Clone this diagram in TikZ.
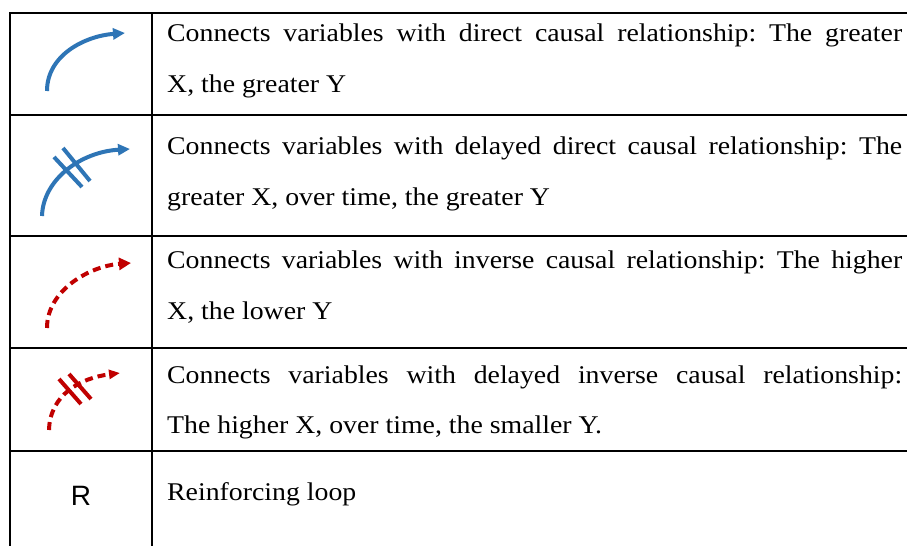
\documentclass[tikz,border=0pt]{standalone}
\usepackage{fontspec}
\setmainfont{Liberation Serif}[FakeStretch=1.09]
\newfontfamily\rsans{Liberation Sans}
\usetikzlibrary{arrows.meta}
\definecolor{cblue}{HTML}{2E75B6}
\definecolor{cred}{HTML}{C00000}
\frenchspacing
\tikzset{
  grid/.style={line width=2pt, black},
  txt/.style={anchor=base west, inner sep=0pt, font=\fontsize{25.5}{30}\selectfont},
  posarr/.style={cblue, line width=4pt, -{Triangle[length=12pt, width=11pt]}},
  negarr/.style={cred, line width=4pt, dash pattern=on 8pt off 5pt, -{Triangle[length=12pt, width=12pt]}},
  negarrsmall/.style={cred, line width=4pt, dash pattern=on 8pt off 5pt, -{Triangle[length=11pt, width=9pt]}},
  hatchblue/.style={cblue, line width=4pt},
  hatchred/.style={cred, line width=4pt},
}
\newcommand{\jline}[1]{\makebox[735pt][s]{\frenchspacing #1}}
\begin{document}
\begin{tikzpicture}[x=1pt, y=-1pt]
\useasboundingbox (0,0) rectangle (907,546);
\fill[white] (0,0) rectangle (907,546);
% table rules
\draw[grid] (10,13) -- (907,13);
\draw[grid] (10,115) -- (907,115);
\draw[grid] (10,236) -- (907,236);
\draw[grid] (10,348) -- (907,348);
\draw[grid] (10,451) -- (907,451);
\draw[grid] (10,12) -- (10,546);
\draw[grid] (152,12) -- (152,546);
% row 1 symbol
\coordinate (a1s) at (47,91);
\coordinate (a1e) at (125,33);
\draw[posarr] (a1s) .. controls (47,55) and (85,36) .. (a1e);
% row 2 symbol
\coordinate (a2s) at (42,216);
\coordinate (a2e) at (130,149);
\draw[posarr] (a2s) .. controls (43,180) and (80,152) .. (a2e);
\coordinate (h2a) at (54,157); \coordinate (h2b) at (82,187);
\coordinate (h2c) at (63,148); \coordinate (h2d) at (90,181);
\draw[hatchblue] (h2a) -- (h2b);
\draw[hatchblue] (h2c) -- (h2d);
% row 3 symbol
\coordinate (a3s) at (47,328);
\coordinate (a3e) at (131,263);
\draw[negarr] (a3s) .. controls (47,290) and (90,266) .. (a3e);
% row 4 symbol
\coordinate (a4s) at (49,430);
\coordinate (a4e) at (120,373);
\draw[negarrsmall] (a4s) .. controls (50,395) and (80,378) .. (a4e);
\coordinate (h4a) at (59,379); \coordinate (h4b) at (81,404);
\coordinate (h4c) at (69,374); \coordinate (h4d) at (91,399);
\draw[hatchred] (h4a) -- (h4b);
\draw[hatchred] (h4c) -- (h4d);
% row 5 symbol
\node[anchor=base, inner sep=0pt, font=\rsans\fontsize{28}{32}\selectfont] (r5) at (81,505) {R};
% texts
\node[txt] (t1a) at (167,41.5) {\jline{Connects variables with direct causal relationship: The greater}};
\node[txt] (t1b) at (167,92) {X, the greater Y};
\node[txt] (t2a) at (167,154) {\jline{Connects variables with delayed direct causal relationship: The}};
\node[txt] (t2b) at (167,205.5) {greater X, over time, the greater Y};
\node[txt] (t3a) at (167,268) {\jline{Connects variables with inverse causal relationship: The higher}};
\node[txt] (t3b) at (167,319) {X, the lower Y};
\node[txt] (t4a) at (167,383) {\jline{Connects variables with delayed inverse causal relationship:}};
\node[txt] (t4b) at (167,433) {The higher X, over time, the smaller Y.};
\node[txt] (t5) at (167,500) {Reinforcing loop};
\end{tikzpicture}
\end{document}
